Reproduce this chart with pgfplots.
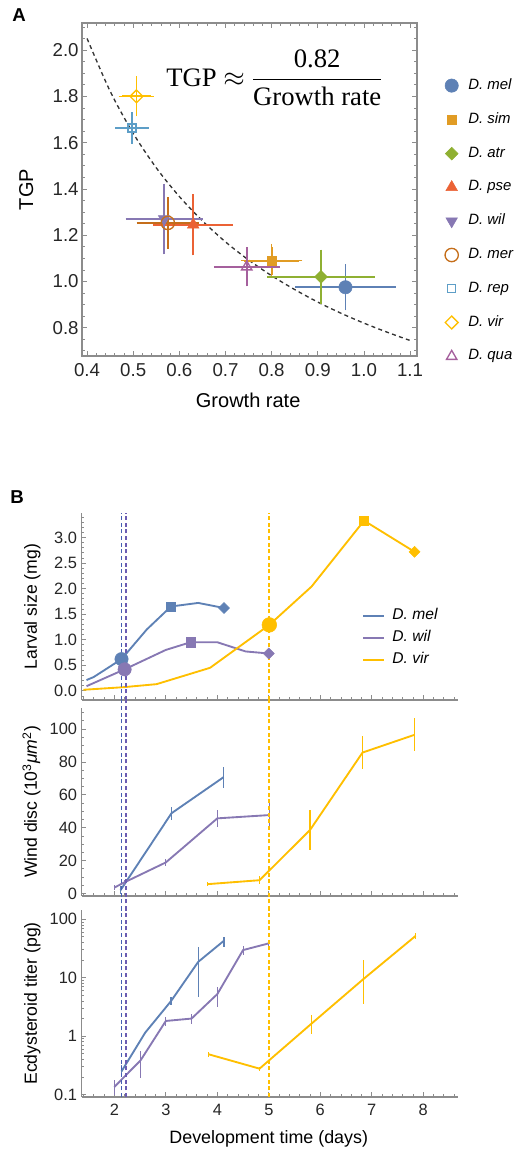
\documentclass[border=0pt]{standalone}
\usepackage{fontspec}
\setmainfont{Liberation Sans}
\newfontfamily\serif{Liberation Serif}
\usepackage{pgfplots}
\pgfplotsset{compat=1.18}
\definecolor{cmel}{rgb}{0.368,0.507,0.710}
\definecolor{csim}{rgb}{0.881,0.611,0.142}
\definecolor{catr}{rgb}{0.560,0.692,0.195}
\definecolor{cpse}{rgb}{0.923,0.386,0.209}
\definecolor{cwil}{rgb}{0.528,0.471,0.701}
\definecolor{cmer}{rgb}{0.772,0.432,0.102}
\definecolor{crep}{rgb}{0.364,0.619,0.782}
\definecolor{cvir}{rgb}{1,0.75,0}
\definecolor{cqua}{rgb}{0.648,0.378,0.614}
\definecolor{axgray}{gray}{0.55}
\definecolor{dblue}{rgb}{0.27,0.37,0.70}
\definecolor{dpurp}{rgb}{0.42,0.36,0.70}
\begin{document}
\begin{tikzpicture}
\path[use as bounding box] (0,0) rectangle (390pt,861.75pt);
\pgfplotsset{
  /pgf/number format/assume math mode=true,
  every axis/.append style={scale only axis,
    axis line style={axgray, line width=0.8pt},
    tick style={axgray, line width=0.6pt},
    tick label style={black!85}},
  Bax/.style={width=282.2pt, xmin=1.367, xmax=8.674,
    axis lines=left, axis line style={-},
    tick align=inside, major tick length=3.5pt, minor tick length=2pt,
    xtick={1,2,3,4,5,6,7,8,9}, minor x tick num=4,
    tick label style={font=\fontsize{12.3}{14}\selectfont},
    ylabel style={at={(rel axis cs:-0.119,0.5)}, anchor=base, font=\fontsize{13.2}{15}\selectfont},
    clip=false},
  dl/.style={line width=1.4pt, dash pattern=on 3pt off 2pt, forget plot},
  bl/.style={line width=1.4pt},
  eb/.style={error bars/.cd, y dir=both, y explicit, error mark=none, error bar style={line width=0.8pt}},
  ebA/.style={error bars/.cd, x dir=both, y dir=both, x explicit, y explicit,
    error bar style={line width=1.3pt}, error mark options={mark size=2.2pt, line width=1.2pt}},
}
\node[font=\bfseries\fontsize{14}{14}\selectfont] at (14.25pt,850.5pt) {A};
\node[font=\bfseries\fontsize{14}{14}\selectfont] at (12.75pt,489pt) {B};

% ---------------- Panel A
\begin{axis}[
  at={(61.5pt,594.75pt)}, anchor=south west,
  width=251.25pt, height=249.75pt,
  xmin=0.389, xmax=1.115, ymin=0.678, ymax=2.117,
  xtick={0.3,0.4,0.5,0.6,0.7,0.8,0.9,1.0,1.1,1.2},
  ytick={0.6,0.8,1.0,1.2,1.4,1.6,1.8,2.0,2.2},
  minor x tick num=4, minor y tick num=3,
  tick align=inside, major tick length=4pt, minor tick length=2pt,
  tick label style={font=\fontsize{14}{16}\selectfont},
  xticklabel style={/pgf/number format/fixed, /pgf/number format/fixed zerofill, /pgf/number format/precision=1, yshift=-2pt},
  yticklabel style={/pgf/number format/fixed, /pgf/number format/fixed zerofill, /pgf/number format/precision=1, xshift=1pt},
  xlabel={Growth rate}, ylabel={TGP},
  xlabel style={at={(rel axis cs:0.496,-0.156)}, anchor=base, font=\fontsize{15}{17}\selectfont},
  ylabel style={at={(rel axis cs:-0.146,0.5)}, anchor=base, font=\fontsize{15}{17}\selectfont},
  legend style={at={(1.057,0.85)}, anchor=north west, draw=none, fill=none,
    font=\fontsize{11.2}{13}\selectfont\itshape, row sep=11pt, cells={anchor=west},
    nodes={text depth=2.5pt}},
  legend image code/.code={\draw[#1] plot coordinates {(8.5pt,0pt)}; \path[draw=none] (0pt,0pt) -- (19pt,0pt);},
  clip=false,
]
\addplot[black!80, line width=1pt, dash pattern=on 3pt off 2.5pt, smooth, forget plot] coordinates {
(0.40,2.050)(0.45,1.822)(0.50,1.640)(0.55,1.491)(0.60,1.367)(0.65,1.262)(0.70,1.171)(0.75,1.093)(0.80,1.025)(0.85,0.965)(0.90,0.911)(0.95,0.863)(1.00,0.820)(1.05,0.781)(1.10,0.745)};
\addlegendimage{cmel, only marks, mark=*, mark size=5pt}
\addlegendentry{D. mel}
\addlegendimage{csim, only marks, mark=square*, mark size=3.1pt}
\addlegendentry{D. sim}
\addlegendimage{catr, only marks, mark=square*, mark size=3.4pt, mark options={rotate=45}}
\addlegendentry{D. atr}
\addlegendimage{cpse, only marks, mark=triangle*, mark size=5pt}
\addlegendentry{D. pse}
\addlegendimage{cwil, only marks, mark=triangle*, mark size=5pt, mark options={rotate=180}}
\addlegendentry{D. wil}
\addlegendimage{cmer, only marks, mark=o, mark size=5pt, mark options={line width=1pt}}
\addlegendentry{D. mer}
\addlegendimage{crep, only marks, mark=square, mark size=3pt, mark options={line width=1pt}}
\addlegendentry{D. rep}
\addlegendimage{cvir, only marks, mark=square, mark size=3.4pt, mark options={rotate=45, line width=1pt}}
\addlegendentry{D. vir}
\addlegendimage{cqua, only marks, mark=triangle, mark size=4.5pt, mark options={line width=1pt}}
\addlegendentry{D. qua}
\addplot[cmel, only marks, mark=*, mark size=5pt, forget plot, ebA] coordinates {(0.96,0.975) +- (0.103,0.087)};
\addplot[csim, only marks, mark=square*, mark size=3.1pt, forget plot, ebA] coordinates {(0.80,1.09) +- (0.06,0.06)};
\addplot[catr, only marks, mark=square*, mark size=3.4pt, mark options={rotate=45}, forget plot, ebA] coordinates {(0.907,1.02) +- (0.11,0.105)};
\addplot[cpse, only marks, mark=triangle*, mark size=5pt, forget plot, ebA] coordinates {(0.63,1.245) +- (0.08,0.12)};
\addplot[cwil, only marks, mark=triangle*, mark size=5pt, mark options={rotate=180}, forget plot, ebA] coordinates {(0.567,1.27) +- (0.077,0.14)};
\addplot[cmer, only marks, mark=o, mark size=5pt, mark options={line width=1pt}, forget plot, ebA] coordinates {(0.575,1.253) +- (0.061,0.099)};
\addplot[crep, only marks, mark=square, mark size=3pt, mark options={line width=1pt}, forget plot, ebA] coordinates {(0.497,1.663) +- (0.03,0.055)};
\addplot[cvir, only marks, mark=square, mark size=3.4pt, mark options={rotate=45, line width=1pt}, forget plot, ebA] coordinates {(0.507,1.80) +- (0.032,0.074)};
\addplot[cqua, only marks, mark=triangle, mark size=4.5pt, mark options={line width=1pt}, forget plot, ebA] coordinates {(0.746,1.063) +- (0.065,0.072)};
\node[font=\serif\fontsize{20}{24}\selectfont] at (rel axis cs:0.575,0.835) {TGP $\approx$ ${\displaystyle\frac{\mbox{0.82}}{\mbox{Growth rate}}}$};
\end{axis}

% ---------------- Panel B top
\begin{axis}[Bax,
  at={(61.3pt,336.75pt)}, anchor=south west, height=140.25pt,
  ymin=-0.18, ymax=3.48,
  ytick={-0.5,0,0.5,1,1.5,2,2.5,3,3.5}, minor y tick num=4,
  yticklabel style={/pgf/number format/fixed, /pgf/number format/fixed zerofill, /pgf/number format/precision=1},
  xticklabels={},
  ylabel={Larval size (mg)},
  legend style={at={(0.734,0.519)}, anchor=north west, draw=none, fill=none,
    font=\fontsize{11.7}{13}\selectfont\itshape, row sep=1.5pt, cells={anchor=west},
    nodes={text depth=2.5pt}},
  legend image code/.code={\draw[#1] (0pt,0pt) -- (16pt,0pt); \path[draw=none] (0pt,0pt) -- (20pt,0pt);},
]
\addplot[cmel, bl] coordinates {(1.46,0.21)(1.6,0.27)(2.14,0.62)(2.63,1.2)(3.1,1.65)(3.63,1.72)(4.13,1.62)};
\addlegendentry{D. mel}
\addplot[cwil, bl] coordinates {(1.46,0.09)(2.2,0.42)(3.0,0.80)(3.48,0.95)(4.0,0.95)(4.55,0.77)(5.0,0.73)};
\addlegendentry{D. wil}
\addplot[cvir, bl] coordinates {(1.4,0.02)(2.17,0.07)(2.82,0.13)(3.86,0.45)(5.01,1.29)(5.83,2.04)(6.85,3.33)(7.83,2.72)};
\addlegendentry{D. vir}
\addplot[cmel, only marks, mark=*, mark size=5pt, forget plot] coordinates {(2.14,0.62)};
\addplot[cmel, only marks, mark=square*, mark size=3.5pt, forget plot] coordinates {(3.1,1.65)};
\addplot[cmel, only marks, mark=square*, mark size=2.9pt, mark options={rotate=45}, forget plot] coordinates {(4.13,1.62)};
\addplot[cwil, only marks, mark=*, mark size=5pt, forget plot] coordinates {(2.2,0.42)};
\addplot[cwil, only marks, mark=square*, mark size=3.5pt, forget plot] coordinates {(3.48,0.95)};
\addplot[cwil, only marks, mark=square*, mark size=2.9pt, mark options={rotate=45}, forget plot] coordinates {(5.0,0.73)};
\addplot[cvir, only marks, mark=*, mark size=5.5pt, forget plot] coordinates {(5.01,1.29)};
\addplot[cvir, only marks, mark=square*, mark size=3.5pt, forget plot] coordinates {(6.85,3.33)};
\addplot[cvir, only marks, mark=square*, mark size=2.9pt, mark options={rotate=45}, forget plot] coordinates {(7.83,2.72)};
\addplot[dblue, dl] coordinates {(2.14,-0.18)(2.14,3.48)};
\addplot[dpurp, dl] coordinates {(2.22,-0.18)(2.22,3.48)};
\addplot[cvir, dl] coordinates {(5.01,-0.18)(5.01,3.48)};
\end{axis}

% ---------------- Panel B middle
\begin{axis}[Bax,
  at={(61.3pt,189.75pt)}, anchor=south west, height=141pt,
  ymin=-1.5, ymax=112.8,
  ytick={-20,0,20,40,60,80,100,120}, minor y tick num=3,
  xticklabels={},
  ylabel={Wind disc (10\textsuperscript{3}\textit{μm}\textsuperscript{2})},
]
\addplot[cmel, bl, eb] coordinates {(2.12,2) +- (0,2.5) (3.11,48.8) +- (0,4) (4.12,70.7) +- (0,6.5)};
\addplot[cwil, bl, eb] coordinates {(2.0,3.6) +- (0,1.5) (2.19,6.7) +- (0,1.5) (3.0,18.9) +- (0,2) (4.0,45.7) +- (0,5.3) (5.01,47.7) +- (0,8)};
\addplot[cvir, bl, eb] coordinates {(3.81,5.7) +- (0,1.2) (4.82,8.1) +- (0,2.5) (5.80,38.6) +- (0,12.4) (6.82,85.7) +- (0,10) (7.83,96.5) +- (0,10)};
\addplot[dblue, dl] coordinates {(2.14,-10)(2.14,117.7)};
\addplot[dpurp, dl] coordinates {(2.22,-10)(2.22,117.7)};
\addplot[cvir, dl] coordinates {(5.01,-10)(5.01,117.7)};
\end{axis}

% ---------------- Panel B bottom
\begin{axis}[Bax,
  at={(61.3pt,39pt)}, anchor=south west, height=140.25pt,
  ymode=log, ymin=0.091, ymax=144,
  ytick={0.01,0.1,1,10,100,1000}, yticklabels={0.01,0.1,1,10,100,1000},
  minor ytick={0.2,0.3,0.4,0.5,0.6,0.7,0.8,0.9,2,3,4,5,6,7,8,9,20,30,40,50,60,70,80,90},
  xticklabels={,2,3,4,5,6,7,8,},
  xticklabel style={yshift=-2pt},
  ylabel={Ecdysteroid titer (pg)},
  xlabel={Development time (days)},
  xlabel style={at={(rel axis cs:0.497,-0.246)}, anchor=base, font=\fontsize{13.4}{15}\selectfont},
]
\addplot[cmel, bl, eb] coordinates {(2.14,0.25) += (0,0.07) -= (0,0.05) (2.6,1.15) (3.1,3.97) += (0,0.7) -= (0,0.6) (3.63,18.7) += (0,15.2) -= (0,14) (4.13,43) += (0,7) -= (0,9)};
\addplot[cwil, bl, eb] coordinates {(2.0,0.135) += (0,0.04) -= (0,0.037) (2.19,0.20) (2.51,0.386) += (0,0.18) -= (0,0.19) (3.0,1.82) += (0,0.3) -= (0,0.3) (3.5,2.0) += (0,0.4) -= (0,0.4) (4.0,5.24) += (0,1.8) -= (0,2.1) (4.5,29.7) += (0,5) -= (0,5) (5.0,38.7) += (0,5) -= (0,5)};
\addplot[cvir, bl, eb] coordinates {(3.83,0.49) += (0,0.05) -= (0,0.05) (4.82,0.278) += (0,0.02) -= (0,0.02) (5.83,1.64) += (0,0.64) -= (0,0.53) (6.83,9.36) += (0,10.6) -= (0,5.8) (7.85,51.8) += (0,6) -= (0,6)};
\addplot[dblue, dl] coordinates {(2.14,0.091)(2.14,144)};
\addplot[dpurp, dl] coordinates {(2.22,0.091)(2.22,144)};
\addplot[cvir, dl] coordinates {(5.01,0.091)(5.01,144)};
\end{axis}
\end{tikzpicture}
\end{document}
